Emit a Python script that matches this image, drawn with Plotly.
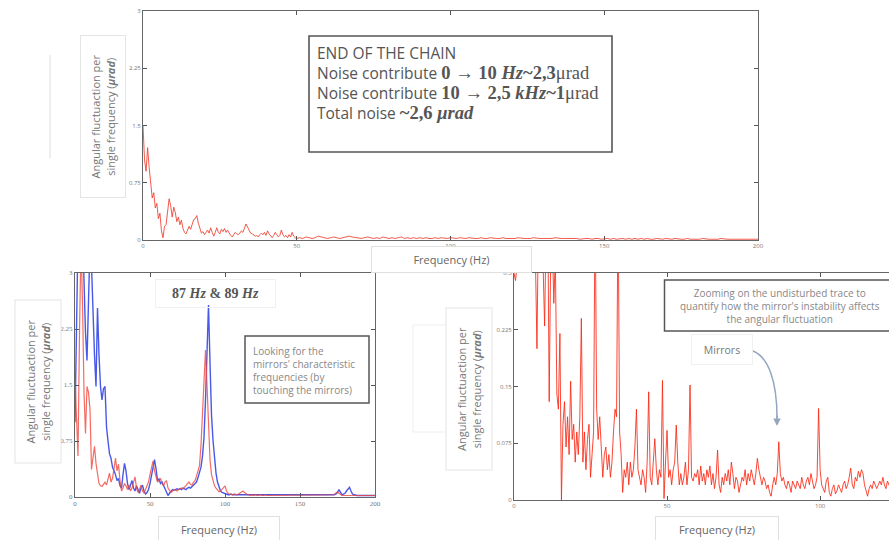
import numpy as np
import plotly.graph_objects as go

W, H = 889, 540

# ---------------- data ----------------
# Top panel: end of the chain spectrum
top_freq_low = np.arange(0, 50.5, 0.5)
top_val_low = [
    1.50, 1.05, 0.90, 1.21, 0.95, 0.78, 0.55, 0.62, 0.42, 0.48,
    0.28, 0.35, 0.12, 0.03, 0.18, 0.20, 0.38, 0.54, 0.45, 0.30,
    0.43, 0.36, 0.24, 0.30, 0.20, 0.26, 0.15, 0.10, 0.08, 0.12,
    0.18, 0.14, 0.22, 0.27, 0.28, 0.32, 0.22, 0.14, 0.09, 0.11,
    0.07, 0.10, 0.13, 0.09, 0.16, 0.10, 0.05, 0.10, 0.16, 0.10,
    0.08, 0.14, 0.11, 0.15, 0.10, 0.13, 0.09, 0.06, 0.04, 0.07,
    0.10, 0.08, 0.07, 0.09, 0.12, 0.10, 0.15, 0.21, 0.17, 0.12,
    0.09, 0.08, 0.07, 0.05, 0.06, 0.04, 0.07, 0.09, 0.07, 0.10,
    0.06, 0.12, 0.08, 0.05, 0.03, 0.06, 0.10, 0.07, 0.04, 0.06,
    0.13, 0.07, 0.04, 0.06, 0.03, 0.07, 0.04, 0.10, 0.05, 0.03,
    0.02,
]
top_freq_high = np.arange(51, 201, 1)
top_val_high = [
    0.03, 0.02, 0.04, 0.03, 0.02, 0.03, 0.05, 0.04, 0.03, 0.02,
    0.03, 0.04, 0.03, 0.02, 0.03, 0.04, 0.05, 0.04, 0.03, 0.02,
    0.02, 0.03, 0.04, 0.03, 0.02, 0.03, 0.02, 0.04, 0.03, 0.02,
    0.03, 0.02, 0.03, 0.04, 0.02, 0.03, 0.02, 0.03, 0.02, 0.03,
    0.02, 0.03, 0.02, 0.02, 0.03, 0.02, 0.03, 0.02, 0.02, 0.03,
    0.02, 0.02, 0.03, 0.02, 0.02, 0.03, 0.02, 0.02, 0.02, 0.03,
    0.02, 0.02, 0.03, 0.02, 0.02, 0.02, 0.03, 0.02, 0.02, 0.02,
    0.02, 0.03, 0.02, 0.02, 0.02, 0.02, 0.03, 0.02, 0.02, 0.02,
    0.02, 0.02, 0.02, 0.03, 0.02, 0.02, 0.02, 0.02, 0.02, 0.02,
    0.02, 0.01, 0.02, 0.02, 0.02, 0.01, 0.02, 0.02, 0.01, 0.02,
    0.02, 0.01, 0.02, 0.01, 0.02, 0.02, 0.01, 0.02, 0.01, 0.02,
    0.01, 0.02, 0.01, 0.02, 0.01, 0.01, 0.02, 0.01, 0.01, 0.02,
    0.01, 0.01, 0.02, 0.01, 0.01, 0.01, 0.02, 0.01, 0.01, 0.01,
    0.01, 0.02, 0.01, 0.01, 0.01, 0.01, 0.01, 0.02, 0.01, 0.01,
    0.01, 0.01, 0.01, 0.01, 0.01, 0.01, 0.01, 0.01, 0.01, 0.01,
]

# Bottom-left panel: touching the mirrors (blue) and reference (red)
bl_freq = np.arange(0, 201, 1)
bl_blue = [
    1.00, 2.60, 3.50, 3.80, 4.00, 3.60, 2.80, 2.20, 1.83, 2.90,
    3.40, 3.10, 2.40, 1.90, 1.48, 2.53, 1.90, 1.48, 1.30, 1.45,
    1.48, 0.94, 0.75, 0.58, 0.52, 0.40, 0.35, 0.30, 0.22, 0.25,
    0.15, 0.12, 0.30, 0.45, 0.35, 0.18, 0.10, 0.15, 0.22, 0.12,
    0.08, 0.15, 0.10, 0.05, 0.12, 0.16, 0.08, 0.04, 0.06, 0.10,
    0.18, 0.28, 0.40, 0.50, 0.38, 0.22, 0.24, 0.18, 0.20, 0.15,
    0.10, 0.05, 0.02, 0.05, 0.08, 0.10, 0.09, 0.10, 0.11, 0.10,
    0.11, 0.10, 0.12, 0.11, 0.10, 0.12, 0.13, 0.12, 0.14, 0.15,
    0.17, 0.20, 0.26, 0.33, 0.40, 0.55, 0.80, 1.30, 1.90, 2.57,
    1.80, 1.10, 0.76, 0.50, 0.32, 0.20, 0.12, 0.08, 0.06, 0.05,
    0.04, 0.04, 0.03, 0.03, 0.04, 0.03, 0.03, 0.02, 0.03, 0.03,
    0.02, 0.03, 0.03, 0.02, 0.03, 0.02, 0.03, 0.02, 0.02, 0.03,
    0.02, 0.02, 0.03, 0.02, 0.02, 0.02, 0.03, 0.02, 0.02, 0.02,
    0.02, 0.03, 0.02, 0.02, 0.02, 0.02, 0.02, 0.03, 0.02, 0.02,
    0.02, 0.02, 0.02, 0.02, 0.03, 0.02, 0.02, 0.02, 0.02, 0.02,
    0.03, 0.02, 0.02, 0.02, 0.02, 0.02, 0.02, 0.02, 0.03, 0.02,
    0.02, 0.02, 0.02, 0.02, 0.02, 0.03, 0.02, 0.02, 0.02, 0.02,
    0.02, 0.02, 0.03, 0.03, 0.04, 0.06, 0.10, 0.06, 0.03, 0.04,
    0.05, 0.08, 0.11, 0.13, 0.08, 0.04, 0.03, 0.02, 0.02, 0.02,
    0.02, 0.02, 0.02, 0.02, 0.02, 0.02, 0.03, 0.02, 0.02, 0.02,
    0.02,
]
bl_red = [
    1.60, 1.00, 0.55, 2.20, 3.40, 2.60, 1.40, 0.85, 1.48, 1.40,
    1.17, 0.37, 0.50, 0.68, 0.45, 0.28, 0.18, 0.15, 0.14, 0.17,
    0.20, 0.16, 0.25, 0.32, 0.20, 0.25, 0.38, 0.52, 0.35, 0.44,
    0.22, 0.08, 0.12, 0.18, 0.15, 0.10, 0.16, 0.08, 0.12, 0.20,
    0.27, 0.12, 0.06, 0.10, 0.16, 0.08, 0.05, 0.10, 0.15, 0.20,
    0.30, 0.40, 0.48, 0.35, 0.25, 0.20, 0.22, 0.25, 0.18, 0.15,
    0.20, 0.22, 0.12, 0.08, 0.06, 0.08, 0.10, 0.09, 0.08, 0.10,
    0.11, 0.12, 0.11, 0.13, 0.15, 0.18, 0.20, 0.17, 0.16, 0.20,
    0.22, 0.28, 0.35, 0.42, 0.70, 1.17, 1.70, 1.97, 1.50, 0.90,
    0.50, 0.30, 0.20, 0.15, 0.12, 0.09, 0.07, 0.08, 0.10, 0.12,
    0.15, 0.08, 0.05, 0.04, 0.03, 0.03, 0.04, 0.03, 0.03, 0.04,
    0.05, 0.07, 0.08, 0.06, 0.04, 0.03, 0.03, 0.02, 0.03, 0.02,
    0.03, 0.02, 0.02, 0.03, 0.02, 0.02, 0.02, 0.03, 0.02, 0.02,
    0.02, 0.02, 0.03, 0.02, 0.02, 0.02, 0.02, 0.02, 0.02, 0.03,
    0.02, 0.02, 0.02, 0.02, 0.02, 0.03, 0.02, 0.02, 0.02, 0.02,
    0.02, 0.02, 0.02, 0.03, 0.02, 0.02, 0.02, 0.02, 0.02, 0.02,
    0.02, 0.02, 0.03, 0.02, 0.02, 0.02, 0.02, 0.02, 0.02, 0.02,
    0.02, 0.02, 0.03, 0.04, 0.05, 0.07, 0.05, 0.03, 0.02, 0.02,
    0.02, 0.03, 0.02, 0.02, 0.02, 0.02, 0.02, 0.02, 0.02, 0.02,
    0.02, 0.02, 0.02, 0.02, 0.02, 0.02, 0.02, 0.02, 0.02, 0.02,
    0.02,
]

# Bottom-right panel: zoom on the undisturbed trace
br_freq = np.arange(0, 123.5, 0.5)
br_val = [
    0.30, 0.29, 0.31, 0.40, 0.50, 0.45, 0.60, 0.55, 0.70, 0.65,
    0.60, 0.55, 0.50, 0.45, 0.32, 0.20, 0.38, 0.45, 0.42, 0.31,
    0.23, 0.36, 0.40, 0.13, 0.33, 0.35, 0.26, 0.32, 0.14, 0.12,
    0.22, 0.00, 0.10, 0.13, 0.07, 0.11, 0.06, 0.157, 0.08, 0.10,
    0.05, 0.09, 0.06, 0.11, 0.24, 0.05, 0.09, 0.04, 0.08, 0.10,
    0.03, 0.06, 0.09, 0.40, 0.12, 0.08, 0.11, 0.07, 0.03, 0.06,
    0.07, 0.04, 0.06, 0.03, 0.05, 0.09, 0.12, 0.11, 0.40, 0.09,
    0.06, 0.01, 0.04, 0.03, 0.05, 0.02, 0.05, 0.03, 0.04, 0.07,
    0.12, 0.04, 0.03, 0.02, 0.04, 0.03, 0.01, 0.05, 0.143, 0.03,
    0.02, 0.05, 0.081, 0.04, 0.02, 0.04, 0.03, 0.158, 0.002, 0.05,
    0.092, 0.03, 0.04, 0.02, 0.04, 0.05, 0.099, 0.05, 0.02, 0.035,
    0.02, 0.03, 0.05, 0.02, 0.04, 0.152, 0.03, 0.025, 0.035, 0.03,
    0.04, 0.02, 0.045, 0.025, 0.035, 0.02, 0.04, 0.03, 0.045, 0.02,
    0.035, 0.015, 0.03, 0.066, 0.02, 0.01, 0.03, 0.02, 0.035, 0.025,
    0.04, 0.02, 0.05, 0.035, 0.015, 0.03, 0.025, 0.01, 0.02, 0.03,
    0.025, 0.04, 0.02, 0.035, 0.025, 0.04, 0.03, 0.02, 0.035, 0.055,
    0.04, 0.03, 0.02, 0.03, 0.025, 0.015, 0.02, 0.01, 0.005, 0.02,
    0.03, 0.02, 0.035, 0.077, 0.035, 0.025, 0.03, 0.02, 0.015, 0.025,
    0.02, 0.01, 0.025, 0.02, 0.015, 0.025, 0.02, 0.015, 0.03, 0.02,
    0.015, 0.025, 0.03, 0.02, 0.035, 0.025, 0.015, 0.02, 0.03, 0.121,
    0.04, 0.02, 0.015, 0.01, 0.025, 0.03, 0.01, 0.005, 0.015, 0.02,
    0.008, 0.012, 0.02, 0.015, 0.01, 0.02, 0.025, 0.015, 0.02, 0.03,
    0.042, 0.02, 0.015, 0.03, 0.025, 0.038, 0.03, 0.04, 0.035, 0.02,
    0.01, 0.005, 0.015, 0.02, 0.015, 0.025, 0.02, 0.015, 0.02, 0.025,
    0.02, 0.03, 0.02, 0.015, 0.025, 0.02, 0.015,
]

top_yticks = [0, 0.75, 1.5, 2.25, 3]
top_xticks = [0, 50, 100, 150, 200]
br_yticks = [0, 0.075, 0.15, 0.225, 0.3]
br_xticks = [0, 50, 100]

# ---------------- helpers ----------------
def px(x):
    return x / W

def py(y):
    return 1 - y / H

SANS = "Open Sans, Lato, sans-serif"
SERIF = "Liberation Serif, DejaVu Serif, serif"

fig = go.Figure()

fig.add_trace(go.Scatter(x=np.concatenate([top_freq_low, top_freq_high]),
                         y=top_val_low + top_val_high, mode="lines",
                         line=dict(color="rgba(240,60,45,0.85)", width=1),
                         xaxis="x", yaxis="y", hoverinfo="skip"))
fig.add_trace(go.Scatter(x=bl_freq, y=bl_blue, mode="lines",
                         line=dict(color="rgba(40,60,230,0.85)", width=1.4),
                         xaxis="x2", yaxis="y2", hoverinfo="skip"))
fig.add_trace(go.Scatter(x=bl_freq, y=bl_red, mode="lines",
                         line=dict(color="rgba(240,70,60,0.8)", width=1.2),
                         xaxis="x2", yaxis="y2", hoverinfo="skip"))
fig.add_trace(go.Scatter(x=br_freq, y=br_val, mode="lines",
                         line=dict(color="rgba(250,40,20,0.85)", width=1),
                         xaxis="x3", yaxis="y3", hoverinfo="skip"))

def ax(domain, rng, ticks, fsize, mirror="ticks", family=SANS):
    return dict(domain=domain, range=rng, tickvals=ticks,
                ticktext=[("%g" % t) for t in ticks],
                showline=True, linecolor="#666", linewidth=1, mirror=mirror,
                ticks="inside", ticklen=4, tickcolor="#555",
                tickfont=dict(size=fsize, color="#777", family=family),
                showgrid=False, zeroline=False, fixedrange=True,
                automargin=False)

fig.update_layout(
    width=W, height=H, margin=dict(l=0, r=0, t=0, b=0, pad=0),
    paper_bgcolor="white", plot_bgcolor="white", showlegend=False,
    xaxis=ax([px(143), px(758)], [0, 200], top_xticks, 6),
    yaxis=ax([py(240), py(11)], [0, 3], top_yticks, 6),
    xaxis2=dict(ax([px(75), px(375)], [0, 200], top_xticks, 7, family=SERIF), anchor="y2"),
    yaxis2=dict(ax([py(497), py(273)], [0, 3], top_yticks, 7, family=SERIF), anchor="x2"),
    xaxis3=dict(ax([px(514), 1.0], [0, 122.5], br_xticks, 6), anchor="y3"),
    yaxis3=dict(ax([py(500), py(273)], [0, 0.3], br_yticks, 6, mirror=False), anchor="x3"),
)

shapes = []
annotations = []

# stray faint lines from the original collage
shapes.append(dict(type="line", xref="paper", yref="paper",
                   x0=px(50), x1=px(50), y0=py(55), y1=py(158),
                   line=dict(color="#dddddd", width=1)))
shapes.append(dict(type="rect", xref="paper", yref="paper",
                   x0=px(413), x1=px(452), y0=py(432), y1=py(325),
                   line=dict(color="#eeeeee", width=1)))

# info box (top)
shapes.append(dict(type="rect", xref="paper", yref="paper",
                   x0=px(309), x1=px(612), y0=py(152), y1=py(36),
                   line=dict(color="#555555", width=1.6), fillcolor="white"))
M = "font-family:%s;font-size:18.5px" % SERIF
info = ("END OF THE CHAIN<br>"
        "Noise contribute <span style='%s'><b>0 → 10 <i>Hz</i>~2,3</b>μrad</span><br>"
        "Noise contribute <span style='%s'><b>10 → 2,5 <i>kHz</i>~1</b>μrad</span><br>"
        "Total noise <span style='%s'><b>~2,6 <i>μrad</i></b></span>") % (M, M, M)
annotations.append(dict(xref="paper", yref="paper", x=px(315), y=py(82.5),
                        xanchor="left", yanchor="middle", align="left",
                        text=info, showarrow=False,
                        font=dict(size=15.5, color="#555", family=SANS)))

# y label boxes
ylab = "Angular fluctuaction per<br>single frequency (<b><i>μrad</i></b>)"
for cx, cy, w, h in [(103, 117, 159, 42), (37.5, 382, 160, 43), (468.5, 389, 159, 43)]:
    annotations.append(dict(xref="paper", yref="paper", x=px(cx), y=py(cy),
                            xanchor="center", yanchor="middle", text=ylab,
                            textangle=-90, showarrow=False, width=w, height=h,
                            bgcolor="white", bordercolor="#e4e4e4", borderwidth=1,
                            font=dict(size=11, color="#777", family=SANS)))

# Frequency boxes
for cx, cy, w in [(451, 260, 157), (219, 529, 118), (717, 529, 120)]:
    annotations.append(dict(xref="paper", yref="paper", x=px(cx), y=py(cy),
                            xanchor="center", yanchor="middle", text="Frequency (Hz)",
                            showarrow=False, width=w, height=23,
                            bgcolor="white", bordercolor="#e0e0e0", borderwidth=1,
                            font=dict(size=11, color="#666", family=SANS)))

# 87 Hz & 89 Hz
annotations.append(dict(xref="paper", yref="paper", x=px(215), y=py(293),
                        xanchor="center", yanchor="middle",
                        text="<b>87 <i>Hz</i> &amp; 89 <i>Hz</i></b>", showarrow=False,
                        width=117, height=25, bordercolor="#f0f0f0", borderwidth=1,
                        font=dict(size=14, color="#555", family=SERIF)))

# Looking for ... box
shapes.append(dict(type="rect", xref="paper", yref="paper",
                   x0=px(245), x1=px(369), y0=py(403), y1=py(336),
                   line=dict(color="#555555", width=1.5), fillcolor="white"))
annotations.append(dict(xref="paper", yref="paper", x=px(251), y=py(370.5),
                        xanchor="left", yanchor="middle", align="left",
                        text="Looking for the<br>mirrors' characteristic<br>frequencies (by<br>touching the mirrors)",
                        showarrow=False, font=dict(size=10, color="#888", family=SANS)))

# Zooming box (bottom right)
shapes.append(dict(type="rect", xref="paper", yref="paper",
                   x0=px(664.5), x1=px(895), y0=py(331), y1=py(280),
                   line=dict(color="#555555", width=1.5), fillcolor="white"))
annotations.append(dict(xref="paper", yref="paper", x=px(780), y=py(306),
                        xanchor="center", yanchor="middle", align="center",
                        text="Zooming on the undisturbed trace to<br>quantify how the mirror's instability affects<br>the angular fluctuation",
                        showarrow=False, font=dict(size=10, color="#888", family=SANS)))

# Mirrors label and curved arrow
annotations.append(dict(xref="paper", yref="paper", x=px(722), y=py(349),
                        xanchor="center", yanchor="middle", text="Mirrors",
                        showarrow=False, width=58, height=27,
                        bordercolor="#f0f0f0", borderwidth=1,
                        font=dict(size=10.5, color="#777", family=SANS)))
path = "M %f,%f C %f,%f %f,%f %f,%f" % (px(753), py(351), px(768), py(357),
                                        px(777), py(380), px(777), py(418))
shapes.append(dict(type="path", xref="paper", yref="paper", path=path,
                   line=dict(color="#93a6c0", width=1.5)))
annotations.append(dict(xref="paper", yref="paper", x=px(777), y=py(426),
                        ax=0, ay=-12, text="", showarrow=True, arrowhead=2,
                        arrowsize=1, arrowwidth=1.5, arrowcolor="#93a6c0", standoff=0))

fig.update_layout(shapes=shapes, annotations=annotations)
fig.write_html("out.html", config={"displayModeBar": False},
               post_script="document.body.style.margin='0';document.body.style.padding='0';")
